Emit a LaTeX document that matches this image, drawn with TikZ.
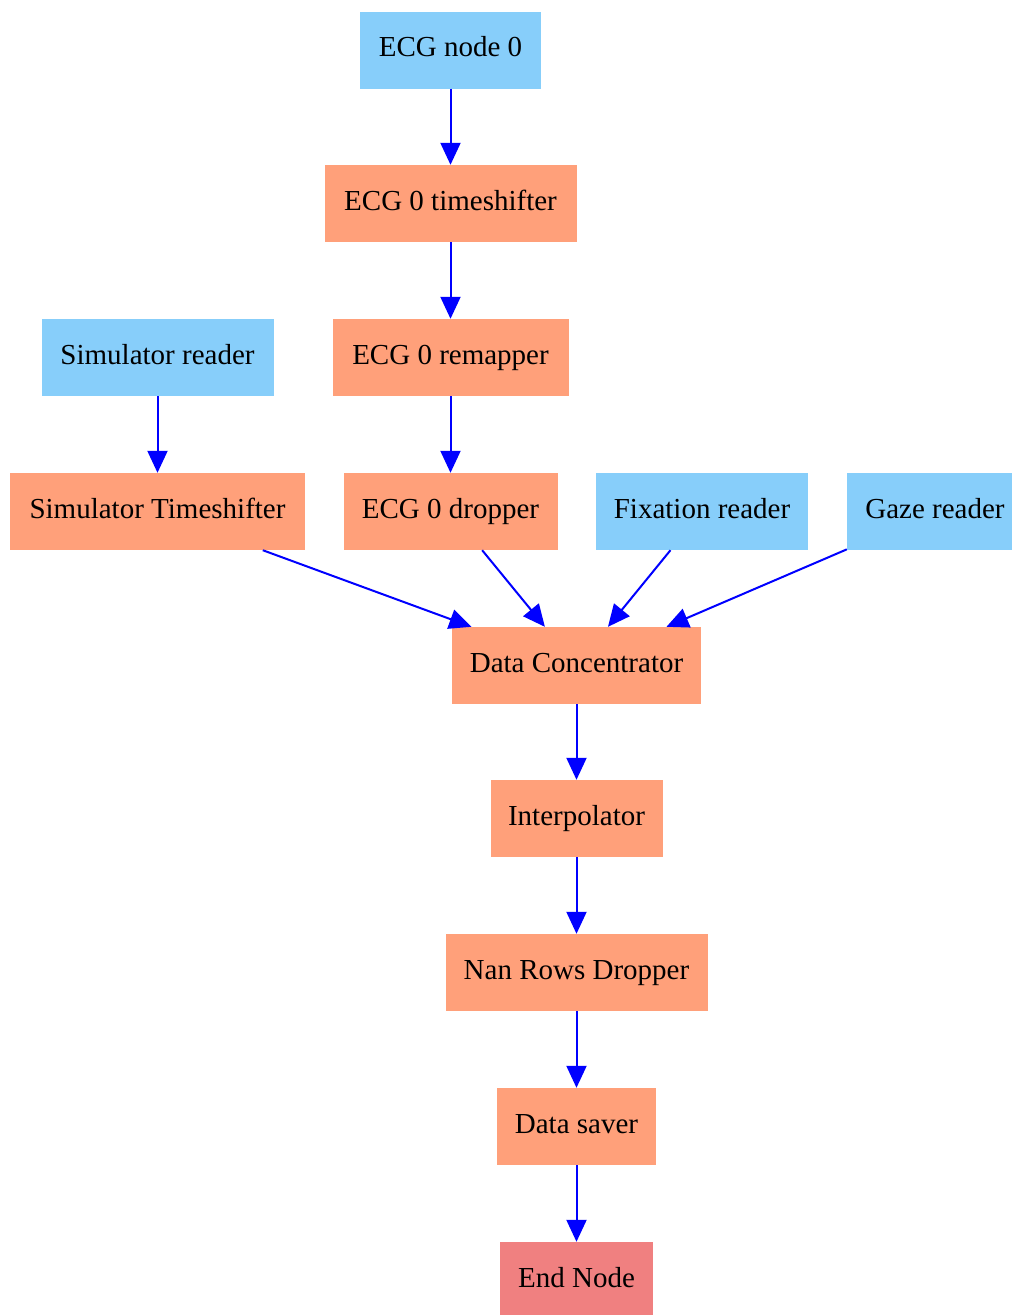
\documentclass[tikz,border=0pt]{standalone}
\usepackage{fontspec}
\setmainfont{Liberation Serif}
\usetikzlibrary{arrows.meta}
\definecolor{srcblue}{HTML}{87CEFA}
\definecolor{procsalmon}{HTML}{FFA07A}
\definecolor{endcoral}{HTML}{F08080}
\begin{document}
\begin{tikzpicture}[x=1pt,y=-1pt,
  box/.style={rectangle, inner sep=0pt, minimum height=77pt,
    text height=20pt, text depth=7pt,
    font=\fontsize{29}{34}\selectfont, text=black},
  source/.style={box, fill=srcblue},
  proc/.style={box, fill=procsalmon},
  sink/.style={box, fill=endcoral},
  flow/.style={draw=blue, line width=2pt,
    -{Triangle[length=22pt,width=20pt]}}]
\useasboundingbox (0,0) rectangle (1012,1315);
\fill[white] (0,0) rectangle (1012,1315);

% sources
\node[source, minimum width=181pt] (ecg)   at (450.5,50)   {ECG node 0};
\node[source, minimum width=232pt] (simr)  at (157.5,357.5) {Simulator reader};
\node[source, minimum width=212pt] (fix)   at (702,511.5)  {Fixation reader};
\node[source, minimum width=176pt] (gaze)  at (935,511.5)  {Gaze reader};

% processing steps
\node[proc, minimum width=252pt] (ects)  at (450.5,203.5) {ECG 0 timeshifter};
\node[proc, minimum width=236pt] (ecrm)  at (450.5,357.5) {ECG 0 remapper};
\node[proc, minimum width=295pt] (simts) at (157.5,511.5) {Simulator Timeshifter};
\node[proc, minimum width=214pt] (ecdr)  at (450.5,511.5) {ECG 0 dropper};
\node[proc, minimum width=249pt] (conc)  at (576.5,665.5) {Data Concentrator};
\node[proc, minimum width=172pt] (interp) at (576.5,818.5) {Interpolator};
\node[proc, minimum width=262pt] (nandr) at (576.5,972.5) {Nan Rows Dropper};
\node[proc, minimum width=159pt] (saver) at (576.5,1126.5) {Data saver};

% sink
\node[sink, minimum width=153pt] (endn)  at (576.5,1280.5) {End Node};

% connectors
\draw[flow] (ecg) -- (ects);
\draw[flow] (ects) -- (ecrm);
\draw[flow] (ecrm) -- (ecdr);
\draw[flow] (simr) -- (simts);
\draw[flow] (simts) -- (conc);
\draw[flow] (ecdr) -- (conc);
\draw[flow] (fix) -- (conc);
\draw[flow] (gaze) -- (conc);
\draw[flow] (conc) -- (interp);
\draw[flow] (interp) -- (nandr);
\draw[flow] (nandr) -- (saver);
\draw[flow] (saver) -- (endn);
\end{tikzpicture}
\end{document}
